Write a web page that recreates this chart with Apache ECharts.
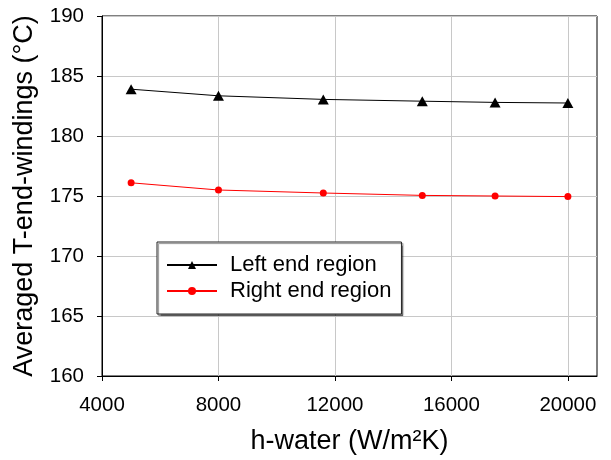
<!DOCTYPE html>
<html>
<head>
<meta charset="utf-8">
<script src="https://cdn.jsdelivr.net/npm/echarts@6/dist/echarts.min.js"></script>
<style>html,body{margin:0;padding:0;background:#fff}#c{width:611px;height:460px}</style>
</head>
<body>
<div id="c"></div>
<script>
var hWater = [5000, 8000, 11600, 15000, 17500, 20000];
var leftEnd = [183.9, 183.35, 183.05, 182.9, 182.8, 182.75];
var rightEnd = [176.1, 175.5, 175.25, 175.05, 175.0, 174.95];
var xTicks = [4000, 8000, 12000, 16000, 20000];
var seriesNames = ['Left end region', 'Right end region'];

var FONT = '"Liberation Sans", Arial, sans-serif';
function pairs(xs, ys) { return xs.map(function (x, i) { return [x, ys[i]]; }); }

var chart = echarts.init(document.getElementById('c'));
chart.setOption({
  animation: false,
  backgroundColor: '#fff',
  textStyle: { fontFamily: FONT },
  grid: { left: 102, right: 14, top: 16, bottom: 83, show: true, borderColor: '#000', borderWidth: 1, backgroundColor: 'transparent' },
  xAxis: {
    type: 'value', min: 4000, max: 21000, interval: 4000,
    name: 'h-water (W/m\u00B2K)', nameLocation: 'middle', nameGap: 52,
    nameTextStyle: { fontSize: 27, color: '#000', fontFamily: FONT },
    axisLine: { show: true, lineStyle: { color: '#000', width: 1 } },
    axisTick: { show: true, inside: false, length: 5, lineStyle: { color: '#000' }, customValues: xTicks },
    axisLabel: { fontSize: 20.5, color: '#000', margin: 19, fontFamily: FONT, customValues: xTicks,
      formatter: function (v) { return String(v); } },
    splitLine: { show: true, lineStyle: { color: '#c8c8c8', width: 1 } }
  },
  yAxis: {
    type: 'value', min: 160, max: 190, interval: 5,
    name: 'Averaged T-end-windings (\u00B0C)', nameLocation: 'middle', nameGap: 64, nameRotate: 90,
    nameTextStyle: { fontSize: 27, color: '#000', fontFamily: FONT },
    axisLine: { show: true, lineStyle: { color: '#000', width: 1 } },
    axisTick: { show: true, inside: false, length: 5, lineStyle: { color: '#000' } },
    axisLabel: { fontSize: 20.5, color: '#000', margin: 18, fontFamily: FONT },
    splitLine: { show: true, lineStyle: { color: '#c8c8c8', width: 1 } }
  },
  legend: {
    orient: 'vertical', left: 157, top: 242,
    padding: [12, 10, 12, 9],
    itemWidth: 50, itemHeight: 10, itemGap: 4,
    backgroundColor: '#fff', borderColor: '#222', borderWidth: 1,
    shadowColor: 'rgba(0,0,0,0.45)', shadowBlur: 1, shadowOffsetX: 1.5, shadowOffsetY: 1.5,
    textStyle: { fontSize: 22, color: '#000', fontFamily: FONT, padding: [0, 0, 0, 8] },
    data: seriesNames
  },
  series: [
    {
      name: seriesNames[0], type: 'line', data: pairs(hWater, leftEnd),
      symbol: 'triangle', symbolSize: [11, 10],
      lineStyle: { color: '#000', width: 1 }, itemStyle: { color: '#000' }
    },
    {
      name: seriesNames[1], type: 'line', data: pairs(hWater, rightEnd),
      symbol: 'circle', symbolSize: 7,
      lineStyle: { color: '#ff0000', width: 1 }, itemStyle: { color: '#ff0000' }
    }
  ]
});
</script>
</body>
</html>
